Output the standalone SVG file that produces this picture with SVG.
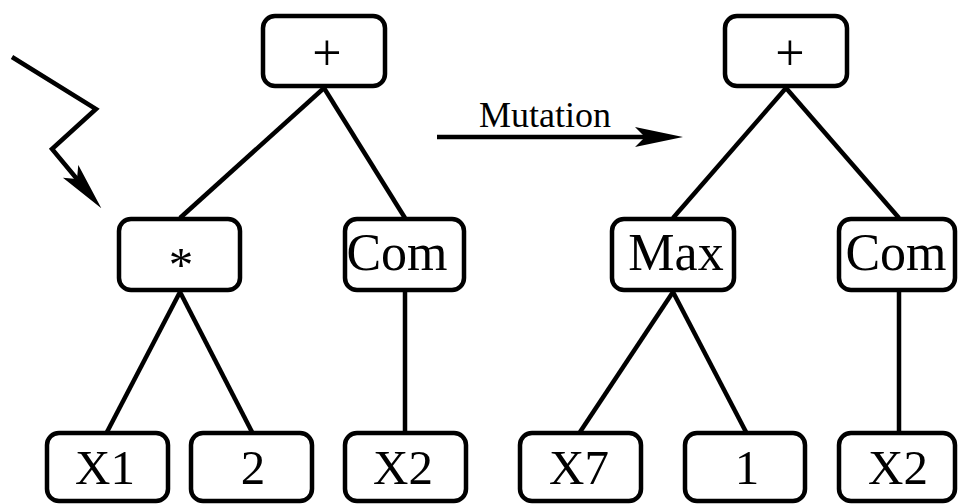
<svg xmlns="http://www.w3.org/2000/svg" width="959" height="504" viewBox="0 0 959 504">
<style>
.box{fill:#fff;stroke:#000;stroke-width:4.5}
.lbl{font-family:"Liberation Serif","Times New Roman",serif;font-size:52px;text-anchor:middle;fill:#000}
.leaf{font-size:49px}
.op{font-size:52px}
.edge{stroke:#000;stroke-width:4.5;fill:none;stroke-linejoin:miter}
.cap{font-family:"Liberation Serif","Times New Roman",serif;font-size:36px;fill:#000}
</style>
<defs>
<marker id="head" markerUnits="userSpaceOnUse" viewBox="0 -11 50 22" refX="10" refY="0" markerWidth="50" markerHeight="22" orient="auto">
<path d="M0,-10 L48,0 L0,10 L10,0 Z" fill="#000"/>
</marker>
</defs>
<rect width="959" height="504" fill="#fff"/>
<g id="connectors">
<line class="edge" x1="324" y1="88" x2="180" y2="218"/>
<line class="edge" x1="324" y1="88" x2="405" y2="218"/>
<line class="edge" x1="180" y1="292" x2="107" y2="432"/>
<line class="edge" x1="180" y1="292" x2="252" y2="432"/>
<line class="edge" x1="405" y1="292" x2="405" y2="432"/>
<line class="edge" x1="786" y1="88" x2="673" y2="218"/>
<line class="edge" x1="786" y1="88" x2="899" y2="218"/>
<line class="edge" x1="673" y1="292" x2="580" y2="432"/>
<line class="edge" x1="673" y1="292" x2="746" y2="432"/>
<line class="edge" x1="899" y1="292" x2="899" y2="432"/>
<line class="edge" x1="437" y1="137" x2="645" y2="137" marker-end="url(#head)"/>
<polyline class="edge" points="12,57 96,109 52,149 77,179" marker-end="url(#head)"/>
</g>
<text class="cap" x="479" y="127">Mutation</text>
<g id="n_plus_l"><rect class="box" x="263" y="16" width="122" height="70" rx="12"/><text class="lbl op" x="327" y="70">+</text></g>
<g id="n_mul"><rect class="box" x="119" y="219" width="121" height="71" rx="12"/><text class="lbl leaf" x="181" y="281">*</text></g>
<g id="n_com_l"><rect class="box" x="345" y="219" width="119" height="71" rx="12"/><text class="lbl" x="397" y="270">Com</text></g>
<g id="n_x1"><rect class="box" x="47" y="433" width="121" height="68" rx="12"/><text class="lbl leaf" x="105" y="484">X1</text></g>
<g id="n_2"><rect class="box" x="191" y="433" width="121" height="68" rx="12"/><text class="lbl leaf" x="253" y="484">2</text></g>
<g id="n_x2_l"><rect class="box" x="345" y="433" width="121" height="68" rx="12"/><text class="lbl leaf" x="403" y="484">X2</text></g>
<g id="n_plus_r"><rect class="box" x="725" y="16" width="122" height="70" rx="12"/><text class="lbl op" x="790" y="70">+</text></g>
<g id="n_max"><rect class="box" x="612" y="219" width="122" height="71" rx="12"/><text class="lbl" x="676" y="270">Max</text></g>
<g id="n_com_r"><rect class="box" x="839" y="219" width="116" height="71" rx="12"/><text class="lbl" x="896" y="270">Com</text></g>
<g id="n_x7"><rect class="box" x="520" y="433" width="121" height="68" rx="12"/><text class="lbl leaf" x="579" y="484">X7</text></g>
<g id="n_1"><rect class="box" x="685" y="433" width="120" height="68" rx="12"/><text class="lbl leaf" x="747" y="484">1</text></g>
<g id="n_x2_r"><rect class="box" x="839" y="433" width="116" height="68" rx="12"/><text class="lbl leaf" x="898" y="484">X2</text></g>
</svg>
